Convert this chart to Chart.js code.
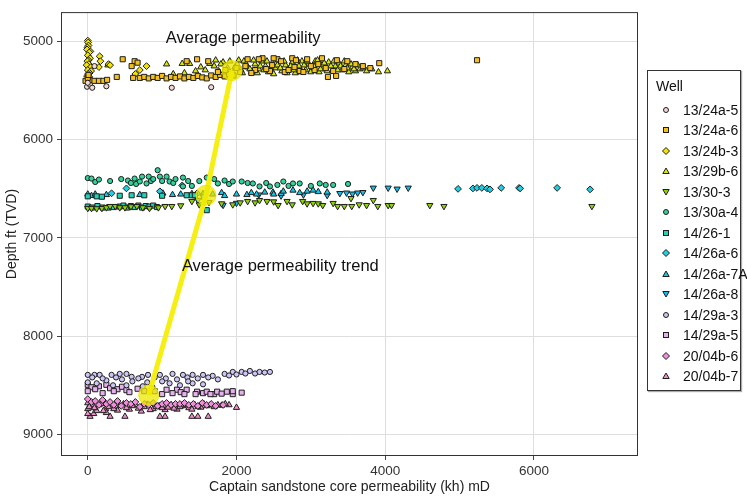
<!DOCTYPE html>
<html>
<head>
<meta charset="utf-8">
<script src="https://cdn.jsdelivr.net/npm/chart.js@4.4.0/dist/chart.umd.min.js"></script>
<style>
body{margin:0;background:#fff;font-family:"Liberation Sans",Arial,sans-serif;}
#wrap{position:relative;width:747px;height:500px;}
#legend{position:absolute;left:647px;top:70px;width:94px;height:321px;border:1px solid #333;box-shadow:1px 1px 1px #aaa;box-sizing:border-box;color:#111;font-size:14px;}
#legend .ttl{position:absolute;left:8px;top:6px;line-height:18px;}
#legend .it{position:absolute;left:0;height:20px;line-height:20px;white-space:nowrap;}
#legend svg{position:absolute;left:13px;top:5px;}
#legend span{position:absolute;left:35px;}
</style>
</head>
<body>
<div id="wrap">
  <canvas id="chart" width="747" height="500"></canvas>
  <div id="legend"><div class="ttl">Well</div></div>
</div>
<script>
// axis ticks
var xTicks = [0, 2000, 4000, 6000];
var yTicks = [5000, 6000, 7000, 8000, 9000];

var wells = ['13/24a-5','13/24a-6','13/24b-3','13/29b-6','13/30-3','13/30a-4','14/26-1',
             '14/26a-6','14/26a-7A','14/26a-8','14/29a-3','14/29a-5','20/04b-6','20/04b-7'];

// [permeability kh mD, depth ft TVD]
var w13_24a_5 = [[-10,5460],[30,5440],[60,5470],[0,5420],[90,5250],[250,5455],[1130,5470],[1660,5465]];

var w13_24a_6 = [[-30,5400],[30,5395],[90,5400],[150,5400],[210,5400],[260,5390],[0,5370],[10,5340],
  [470,5180],[630,5200],[590,5250],[670,5215],[390,5360],[610,5370],[700,5370],[1330,5200],[1470,5180],[1620,5200],
  [760,5360],[820,5375],[880,5360],[940,5370],[1000,5350],[1060,5375],[1120,5360],[1180,5370],[1240,5355],
  [1300,5375],[1360,5360],[1420,5370],[1480,5350],[1540,5365],[1600,5375],[1660,5345],[1720,5360],[1780,5340],
  [1840,5355],[1900,5330],[1960,5345],[2050,5310],[2150,5180],[2250,5290],[2350,5170],[2450,5300],[2550,5180],
  [2650,5310],[2750,5170],[2850,5300],[2950,5180],[3050,5290],[3150,5170],[3230,5360],[3340,5350],[3350,5190],
  [3490,5200],[3700,5250],[3920,5220],[2120,5250],[2480,5240],[2780,5260],[3100,5230],[5235,5190],
  [1750,5310],[1850,5290],[2000,5270],[2200,5320],[2400,5280],[2600,5200],[2700,5290],[2900,5310],[3000,5250],
  [3200,5270],[3300,5300],[3450,5280],[3600,5230],[3800,5270],[2300,5180],[2500,5170],[2800,5190]];

var w13_24b_3 = [[0,4990],[5,5010],[10,5040],[-5,5060],[-10,5080],[35,5100],[20,5110],[0,5140],[30,5170],
  [10,5190],[-5,5200],[15,5230],[-15,5240],[40,5260],[0,5290],[45,5300],[25,5320],[5,5330],[-10,5350],[20,5360],
  [10,5380],[35,5390],[30,5410],[160,5150],[170,5200],[150,5260],[280,5230],[300,5240],
  [640,5330],[700,5290],[790,5250]];

var w13_29b_6 = [[270,5240],[1060,5230],[1270,5225],[1370,5225],[1640,5225],[1520,5260],[1150,5330],[1300,5320],
  [1450,5300],[1580,5290],[1700,5250],[1760,5300],[1820,5210],[1880,5270],[1950,5320],[2010,5230],[2060,5290],
  [2100,5200],[2150,5260],[2200,5310],[2250,5230],[2300,5280],[2340,5200],[2390,5250],[2430,5310],[2480,5220],
  [2520,5270],[2570,5190],[2610,5300],[2660,5240],[2700,5280],[2750,5210],[2790,5320],[2840,5250],[2880,5200],
  [2930,5290],[2970,5230],[3020,5270],[3060,5200],[3110,5310],[3150,5240],[3200,5280],[3240,5210],[3290,5300],
  [3330,5250],[3380,5220],[3420,5290],[3470,5240],[3510,5310],[3560,5260],[3600,5300],[3660,5280],[3750,5300],
  [3910,5310],[4030,5300],
  [1720,5190],[1790,5230],[1850,5320],[1910,5200],[1980,5260],[2030,5190],[2080,5320],[2130,5230],[2180,5280],
  [2230,5190],[2280,5320],[2320,5250],[2370,5290],[2410,5200],[2460,5270],[2500,5330],[2550,5240],[2590,5270],
  [2640,5200],[2680,5320],[2730,5250],[2770,5290],[2820,5190],[2860,5310],[2910,5240],[2950,5200],[3000,5310],
  [3040,5250],[3090,5190],[3130,5280],[3180,5220],[3220,5300],[3270,5250],[3310,5200],[3360,5290],[3400,5250],
  [3450,5200],[3490,5270],[3540,5230],[3580,5280],[3630,5240],[3700,5270],[3820,5280]];

var w13_30_3 = [[0,6697],[50,6697],[120,6700],[190,6697],[250,6690],[300,6677],[370,6677],[430,6690],[500,6690],
  [580,6680],[660,6677],[740,6690],[830,6697],[950,6690],[1040,6677],[1130,6677],[1250,6670],[1400,6626],
  [1500,6660],[1630,6636],[1800,6650],[1950,6660],[2050,6640],[2150,6626],[2250,6640],[2310,6616],[2410,6626],
  [2500,6630],[2560,6667],[2680,6626],[2750,6660],[2890,6626],[2950,6650],[3030,6646],[3100,6650],[3160,6667],
  [3300,6646],[3360,6677],[3450,6677],[3550,6677],[3540,6596],[3650,6660],[3750,6667],[3840,6616],[3900,6677],
  [4040,6667],[4085,6667],[4600,6667],[4790,6677],[6780,6677]];

var w13_30a_4 = [[0,6390],[50,6395],[100,6430],[150,6405],[300,6420],[450,6400],[540,6415],[580,6440],[630,6395],
  [650,6450],[700,6425],[730,6375],[790,6445],[820,6375],[850,6420],[880,6400],[940,6310],[970,6375],[1000,6420],
  [1060,6375],[1100,6425],[1150,6440],[1180,6400],[1280,6385],[1280,6475],[1350,6420],[1400,6470],[1500,6420],
  [1600,6385],[1700,6400],[1750,6445],[1840,6415],[1900,6450],[1950,6425],[2070,6425],[2150,6440],[2220,6445],
  [2310,6475],[2400,6440],[2450,6475],[2550,6460],[2630,6425],[2700,6470],[2760,6445],[2850,6445],[3000,6470],
  [3120,6445],[3200,6460],[3300,6460],[3500,6450]];

var w14_26_1 = [[0,6576],[120,6576],[190,6580],[430,6570],[590,6565],[760,6565],[1000,6570],[1330,6565],
  [1400,6565],[1440,6565],[1560,6580],[1600,6717],[0,6680],[60,6690],[130,6675],[200,6690],[280,6690],[350,6685],
  [430,6680],[480,6670],[530,6690],[580,6675],[630,6685],[680,6670],[730,6690],[780,6675],[830,6680],[880,6670],
  [930,6685]];

var w14_26a_6 = [[320,6545],[520,6495],[970,6525],[1270,6465],[1470,6545],[4980,6500],[5180,6495],[5235,6490],
  [5300,6490],[5370,6495],[5410,6505],[5560,6490],[5800,6490],[5815,6495],[6312,6490],[6756,6505]];

var w14_26a_7A = [[0,6555],[50,6570],[100,6555],[250,6560],[700,6560],[1010,6545],[1140,6560],[1250,6555],
  [1400,6550],[1550,6550],[1680,6555],[1800,6540],[1840,6570],[2000,6555],[2140,6560],[2200,6540],[2270,6555],
  [2380,6535],[2490,6535],[2500,6555],[2600,6550],[2630,6525],[2760,6515],[2850,6540],[2950,6525],[3030,6515],
  [3100,6530],[3220,6535]];

var w14_26a_8 = [[1480,6615],[1820,6665],[2000,6645],[2300,6560],[2600,6570],[2900,6560],[3220,6565],[3390,6545],
  [3480,6540],[3560,6550],[3630,6540],[3700,6535],[3840,6490],[4040,6490],[4160,6500],[4310,6490]];

var w14_29a_3 = [[0,8394],[90,8394],[160,8394],[320,8394],[430,8384],[520,8384],[590,8414],[730,8414],[810,8394],
  [970,8394],[1140,8384],[1280,8394],[1410,8394],[1550,8394],[1680,8404],[1840,8384],[1950,8364],[2000,8390],
  [2070,8364],[2180,8354],[2250,8380],[2310,8364],[2450,8364],[0,8470],[120,8480],[250,8450],[340,8500],
  [520,8500],[600,8460],[740,8510],[870,8520],[1100,8480],[1200,8440],[1240,8500],[1410,8480],[1550,8490],
  [1750,8440],[60,8420],[200,8430],[380,8420],[460,8440],[680,8430],[900,8420],[1050,8430],[1340,8420],
  [1480,8430],[1620,8420],[1900,8400],[2120,8380],[2380,8370],[800,8470],[1000,8460],[1350,8460]];

var w14_29a_5 = [[0,8495],[50,8520],[150,8510],[250,8495],[300,8530],[400,8540],[460,8515],[520,8550],[670,8535],
  [760,8560],[1000,8590],[1060,8545],[1200,8545],[1250,8570],[1330,8545],[1470,8565],[1550,8580],[1600,8565],
  [1700,8590],[1740,8565],[1870,8565],[1950,8590],[2070,8575],[0,8560],[100,8540],[200,8580],[350,8560],
  [560,8570],[900,8560],[1140,8580],[1300,8590],[1450,8590],[1650,8590],[1800,8585],[1950,8560]];

var w20_04b_6 = [[0,8640],[50,8670],[100,8660],[150,8700],[200,8650],[250,8690],[300,8670],[350,8700],[400,8660],
  [450,8710],[520,8680],[580,8690],[640,8670],[700,8720],[760,8690],[820,8700],[880,8680],[940,8710],[1000,8690],
  [1060,8680],[1120,8700],[1180,8690],[1240,8690],[1300,8680],[1360,8700],[1420,8690],[1480,8710],[1540,8680],
  [1600,8700],[1660,8690],[1720,8710],[1820,8700]];

var w20_04b_7 = [[30,8818],[300,8818],[500,8818],[970,8818],[1040,8818],[1400,8818],[1480,8818],[1620,8818],
  [2000,8727],[0,8680],[0,8740],[0,8790],[60,8700],[80,8790],[120,8760],[180,8690],[240,8740],[250,8780],
  [320,8705],[400,8755],[480,8690],[560,8745],[640,8700],[720,8765],[800,8695],[880,8740],[960,8710],
  [1040,8750],[1120,8700],[1200,8745],[1280,8710],[1360,8730],[1440,8700],[1520,8725],[1600,8710],[1700,8720],
  [1800,8705],[1900,8700],[20,8720],[90,8730],[150,8700],[210,8760],[280,8720],[350,8740],[430,8710],[520,8730],
  [600,8710],[680,8735],[760,8720],[840,8750],[920,8720],[1000,8730],[1080,8725],[1160,8735],[1240,8720],
  [1320,8700],[1400,8745],[1480,8720],[1560,8690],[1650,8700],[1750,8700],[1850,8690]];

var wellData = [w13_24a_5,w13_24a_6,w13_24b_3,w13_29b_6,w13_30_3,w13_30a_4,w14_26_1,
                w14_26a_6,w14_26a_7A,w14_26a_8,w14_29a_3,w14_29a_5,w20_04b_6,w20_04b_7];

// average permeability trend
var trendKh = [1940, 1590, 820];
var trendDepth = [5295, 6565, 8600];

// styles
var colors = ['#f3d6d6','#f6c01c','#f2e400','#d9e800','#8fd400','#2fd39a','#20d2b6',
              '#22cde2','#10c8ea','#14bcec','#cbc6f4','#e6b2ee','#ef8fd9','#f08cc8'];
var shapes = ['circle','rect','rectRot','triangle','triangle','circle','rect',
              'rectRot','triangle','triangle','circle','rect','rectRot','triangle'];
var rotations = [0,0,0,0,180,0,0,0,0,180,0,0,0,0];
var radii = [2.6,3.6,3.4,3.6,3.6,2.6,3.6,3.4,3.6,3.6,2.6,3.6,3.4,3.6];

var datasets = [{
  label: 'Average permeability trend',
  data: trendKh.map(function (k, i) { return {x: k, y: trendDepth[i]}; }),
  showLine: true,
  borderColor: '#f5ef12',
  borderWidth: 5,
  pointRadius: 10,
  pointBackgroundColor: 'rgba(238,232,0,0.75)',
  pointBorderColor: 'rgba(235,228,0,0.85)',
  pointBorderWidth: 1,
  order: -1
}];

wells.forEach(function (w, i) {
  datasets.push({
    label: w,
    data: wellData[i].map(function (p) { return {x: p[0], y: p[1]}; }),
    pointStyle: shapes[i],
    rotation: rotations[i],
    pointRadius: radii[i],
    backgroundColor: colors[i],
    borderColor: '#1e1e1e',
    borderWidth: 1
  });
});

var labels = {
  id: 'labels',
  afterDatasetsDraw: function (chart) {
    var ctx = chart.ctx, xs = chart.scales.x, ys = chart.scales.y, a = chart.chartArea;
    ctx.save();
    ctx.fillStyle = '#111';
    ctx.font = '16.5px "Liberation Sans", Arial, sans-serif';
    ctx.textAlign = 'center';
    ctx.textBaseline = 'middle';
    ctx.fillText('Average permeability', xs.getPixelForValue(2090), ys.getPixelForValue(4970));
    ctx.fillText('Average permeability trend', xs.getPixelForValue(2590), ys.getPixelForValue(7290));
    ctx.strokeStyle = '#333';
    ctx.lineWidth = 1;
    ctx.strokeRect(a.left + 0.5, a.top + 0.5, a.right - a.left - 1, a.bottom - a.top - 1);
    ctx.restore();
  }
};

var font = {family: '"Liberation Sans", Arial, sans-serif', size: 13.5};
function plain(v) { return String(v); }

new Chart(document.getElementById('chart'), {
  type: 'scatter',
  data: {datasets: datasets},
  options: {
    responsive: false,
    animation: false,
    events: [],
    layout: {padding: {top: 7, right: 109, left: 0, bottom: 0}},
    plugins: {legend: {display: false}, tooltip: {enabled: false}},
    scales: {
      x: {
        min: -360, max: 7400,
        afterBuildTicks: function (s) { s.ticks = xTicks.map(function (v) { return {value: v}; }); },
        afterFit: function (s) { s.height = 44; },
        grid: {color: '#dedede', tickColor: '#444', tickLength: 4},
        border: {display: false},
        ticks: {color: '#333', font: font, padding: 3, maxRotation: 0, callback: plain},
        title: {display: true, text: 'Captain sandstone core permeability (kh) mD', color: '#222',
                font: {family: font.family, size: 14}}
      },
      y: {
        reverse: true,
        min: 4700, max: 9220,
        afterBuildTicks: function (s) { s.ticks = yTicks.map(function (v) { return {value: v}; }); },
        afterFit: function (s) { s.width = 61; },
        grid: {color: '#dedede', tickColor: '#444', tickLength: 4},
        border: {display: false},
        ticks: {color: '#333', font: font, padding: 4, callback: plain},
        title: {display: true, text: 'Depth ft (TVD)', color: '#222',
                font: {family: font.family, size: 14}}
      }
    }
  },
  plugins: [labels]
});

// legend box
function marker(i) {
  var c = colors[i], s = shapes[i], st = 'fill="' + c + '" stroke="#1e1e1e" stroke-width="1"';
  var body;
  if (s === 'circle') body = '<circle cx="5" cy="5" r="2.5" ' + st + '/>';
  else if (s === 'rect') body = '<rect x="2.5" y="2.5" width="5" height="5" ' + st + '/>';
  else if (s === 'rectRot') body = '<polygon points="5,1.5 8.5,5 5,8.5 1.5,5" ' + st + '/>';
  else if (rotations[i] === 180) body = '<polygon points="1.8,2.5 8.2,2.5 5,8" ' + st + '/>';
  else body = '<polygon points="5,2 8.2,7.5 1.8,7.5" ' + st + '/>';
  return '<svg width="10" height="10">' + body + '</svg>';
}
var lg = document.getElementById('legend');
wells.forEach(function (w, i) {
  var d = document.createElement('div');
  d.className = 'it';
  d.style.top = (29 + i * 20.46) + 'px';
  d.innerHTML = marker(i) + '<span>' + w + '</span>';
  lg.appendChild(d);
});
</script>
</body>
</html>
